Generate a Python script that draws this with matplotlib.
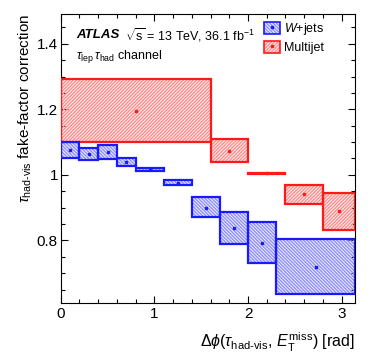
import numpy as np
import matplotlib
matplotlib.use("Agg")
import matplotlib.pyplot as plt
from matplotlib.patches import Patch
from matplotlib.lines import Line2D
from matplotlib.ticker import MultipleLocator

plt.rcParams['font.family'] = ['Liberation Sans', 'DejaVu Sans']
plt.rcParams['mathtext.fontset'] = 'custom'
plt.rcParams['mathtext.rm'] = 'Liberation Sans'
plt.rcParams['mathtext.it'] = 'Liberation Sans:italic'
plt.rcParams['mathtext.bf'] = 'Liberation Sans:bold'
plt.rcParams['hatch.linewidth'] = 1.1

# W+jets correction per dphi bin (bin edges, central value, lower / upper band)
w_edges = [0.0, 0.2, 0.4, 0.6, 0.8, 1.1, 1.4, 1.7, 2.0, 2.3, np.pi]
w_val = [1.076, 1.064, 1.069, 1.040, 1.017, 0.976, 0.900, 0.837, 0.793, 0.720]
w_lo = [1.051, 1.044, 1.048, 1.028, 1.012, 0.968, 0.870, 0.788, 0.731, 0.637]
w_hi = [1.099, 1.082, 1.091, 1.051, 1.022, 0.983, 0.931, 0.886, 0.856, 0.804]

# Multijet correction
m_edges = [0.0, 1.6, 2.0, 2.4, 2.8, np.pi]
m_val = [1.195, 1.073, 1.005, 0.941, 0.889]
m_lo = [1.099, 1.038, 1.003, 0.911, 0.832]
m_hi = [1.292, 1.111, 1.007, 0.970, 0.944]

RED_HATCH = '/' * 10
BLUE_HATCH = '\\' * 10


def draw_boxes(ax, edges, val, lo, hi, col, light, hatch):
    edges = np.array(edges)
    left = edges[:-1]
    width = np.diff(edges)
    lo = np.array(lo)
    hi = np.array(hi)
    ax.bar(left, hi - lo, width=width, bottom=lo, align='edge',
           facecolor='none', edgecolor=light, hatch=hatch, linewidth=0, zorder=2)
    ax.bar(left, hi - lo, width=width, bottom=lo, align='edge',
           facecolor='none', edgecolor=col, linewidth=1.6, zorder=3)
    ax.plot(left + width / 2, val, 's', color=col, markersize=2, zorder=4)


fig = plt.figure(figsize=(3.74, 3.61), dpi=100)
ax = fig.add_axes([0.1623, 0.1615, 0.949 - 0.1623, 0.9604 - 0.1615])

draw_boxes(ax, m_edges, m_val, m_lo, m_hi, '#ff1a1a', '#ff9090', RED_HATCH)
draw_boxes(ax, w_edges, w_val, w_lo, w_hi, '#1a1aff', '#9090ff', BLUE_HATCH)

ax.set_xlim(0, np.pi)
ax.set_ylim(0.61, 1.49)
ax.xaxis.set_major_locator(MultipleLocator(1))
ax.xaxis.set_minor_locator(MultipleLocator(0.2))
ax.yaxis.set_major_locator(MultipleLocator(0.2))
ax.yaxis.set_minor_locator(MultipleLocator(0.05))
ax.tick_params(which='both', direction='in', top=True, right=True, width=0.8,
               labelsize=11)
ax.tick_params(which='major', length=5)
ax.tick_params(which='minor', length=2.6)
ax.tick_params(axis='x', pad=3)
ax.tick_params(axis='y', pad=2)
ax.set_yticks([0.8, 1.0, 1.2, 1.4])
ax.set_yticklabels(['0.8', '1', '1.2', '1.4'])
for s in ax.spines.values():
    s.set_linewidth(0.8)

ax.set_xlabel(r'$\Delta\phi(\tau_{\mathrm{had}\text{-}\mathrm{vis}},\, E_{\mathrm{T}}^{\mathrm{miss}})$ [rad]',
              fontsize=11.5, loc='right', labelpad=7)
ax.set_ylabel(r'$\tau_{\mathrm{had}\text{-}\mathrm{vis}}$ fake-factor correction',
              fontsize=11, loc='top', labelpad=2)

ax.text(0.052, 0.928, 'ATLAS', transform=ax.transAxes, fontsize=9.5,
        fontweight='bold', fontstyle='italic', va='center')
ax.text(0.218, 0.928, r'$\sqrt{\mathrm{s}}$ = 13 TeV, 36.1 fb$^{\mathrm{-1}}$',
        transform=ax.transAxes, fontsize=9, va='center')
ax.text(0.052, 0.853, r'$\tau_{\mathrm{lep}}\,\tau_{\mathrm{had}}$ channel',
        transform=ax.transAxes, fontsize=9, va='center')

h_w = (Patch(facecolor='none', edgecolor='#9090ff', hatch=BLUE_HATCH, linewidth=0),
       Patch(facecolor='none', edgecolor='#1a1aff', linewidth=1.2),
       Line2D([], [], marker='s', color='#1a1aff', markersize=2, linestyle='none'))
h_m = (Patch(facecolor='none', edgecolor='#ff9090', hatch=RED_HATCH, linewidth=0),
       Patch(facecolor='none', edgecolor='#ff1a1a', linewidth=1.2),
       Line2D([], [], marker='s', color='#ff1a1a', markersize=2, linestyle='none'))
ax.legend([h_w, h_m], [r'$\mathit{W}$+jets', 'Multijet'], fontsize=9,
          loc='upper left', bbox_to_anchor=(264 / 374, 1 - 21 / 361),
          bbox_transform=fig.transFigure, frameon=False, borderpad=0,
          borderaxespad=0, handlelength=1.3, handleheight=1.1,
          handletextpad=0.3, labelspacing=0.3)

fig.savefig('out.png', dpi=100)
